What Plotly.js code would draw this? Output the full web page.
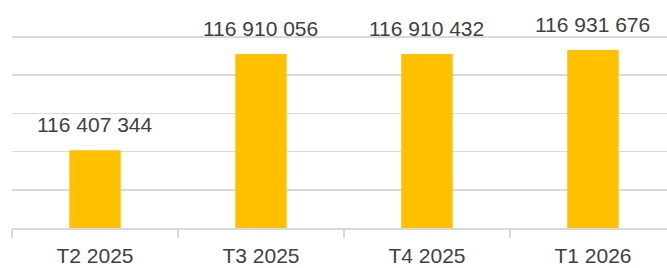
<!DOCTYPE html>
<html>
<head>
<meta charset="utf-8">
<script src="https://cdn.plot.ly/plotly-3.0.1.min.js"></script>
<style>html,body{margin:0;padding:0;overflow:hidden;background:#fff}</style>
</head>
<body>
<div id="chart" style="width:667px;height:268px"></div>
<script>
const categories = ["T2 2025", "T3 2025", "T4 2025", "T1 2026"];
const values = [116407344, 116910056, 116910432, 116931676];

function fmt(v) {
  return String(v).replace(/\B(?=(\d{3})+(?!\d))/g, " ");
}

const trace = {
  type: "bar",
  x: categories,
  y: values,
  marker: { color: "#FFC000" },
  width: 0.31,
  hoverinfo: "skip"
};

const annotations = categories.map((c, i) => ({
  x: c,
  y: values[i],
  xref: "x",
  yref: "y",
  text: fmt(values[i]),
  showarrow: false,
  yanchor: "bottom",
  yshift: 12,
  font: { family: "Liberation Sans, Arial, sans-serif", size: 21, color: "#404040" }
}));

const layout = {
  width: 667,
  height: 268,
  margin: { l: 12, r: 0, t: 35, b: 40, pad: 0 },
  paper_bgcolor: "#ffffff",
  plot_bgcolor: "#ffffff",
  showlegend: false,
  font: { family: "Liberation Sans, Arial, sans-serif", size: 21, color: "#404040" },
  xaxis: {
    type: "category",
    range: [-0.5, 3.446],
    tickson: "boundaries",
    ticks: "outside",
    ticklen: 8,
    tickwidth: 1.5,
    tickcolor: "#d9d9d9",
    showline: true,
    linecolor: "#d9d9d9",
    linewidth: 1.5,
    showgrid: false,
    ticklabelstandoff: 8,
    tickfont: { family: "Liberation Sans, Arial, sans-serif", size: 21, color: "#404040" }
  },
  yaxis: {
    range: [116000000, 117010000],
    dtick: 200000,
    tick0: 116000000,
    showticklabels: false,
    showgrid: true,
    gridcolor: "#d9d9d9",
    gridwidth: 1.5,
    zeroline: false,
    showline: false,
    ticks: ""
  },
  annotations: annotations
};

Plotly.newPlot("chart", [trace], layout, { displayModeBar: false, staticPlot: true });
</script>
</body>
</html>
